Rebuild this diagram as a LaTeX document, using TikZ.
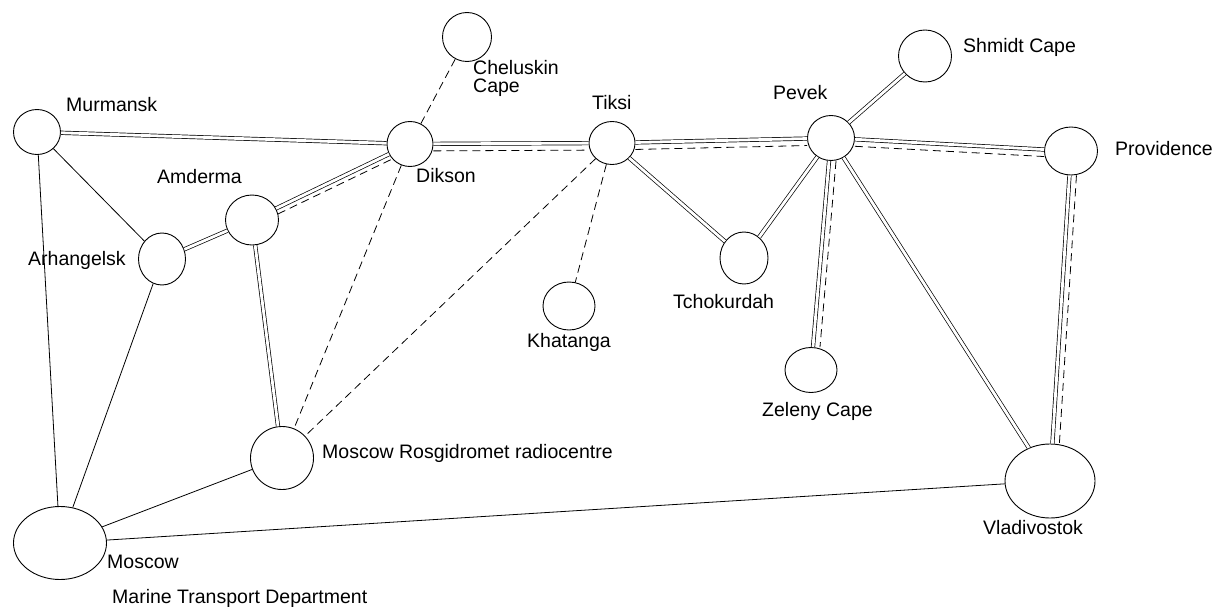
\documentclass[tikz,border=0pt]{standalone}
\usepackage{fontspec}
\setmainfont{Liberation Sans}
\usetikzlibrary{shapes.geometric,calc}
\begin{document}
\begin{tikzpicture}[x=1pt,y=-1pt,
  st/.style={draw,ellipse,inner sep=0pt,line width=0.9pt},
  lab/.style={anchor=base west,inner sep=0pt,font=\fontsize{19.5}{18}\selectfont},
  single/.style={line width=0.8pt},
  dbl/.style={double,double distance=2.8pt,line width=0.7pt},
  dsh/.style={line width=0.8pt,dash pattern=on 8pt off 5pt}]
\useasboundingbox (0,0) rectangle (1214,607);
\fill[white] (0,0) rectangle (1214,607);

% stations
\node[st,minimum width=47pt,minimum height=45pt] (mur) at (37,132) {};
\node[st,minimum width=46pt,minimum height=45pt] (dik) at (410,144) {};
\node[st,minimum width=53pt,minimum height=50pt] (amd) at (252,220) {};
\node[st,minimum width=47pt,minimum height=52pt] (arh) at (162,259) {};
\node[st,minimum width=49pt,minimum height=49pt] (che) at (467,37) {};
\node[st,minimum width=46pt,minimum height=43pt] (tik) at (612,143) {};
\node[st,minimum width=47pt,minimum height=45pt] (pev) at (831,138) {};
\node[st,minimum width=53pt,minimum height=52pt] (shm) at (925,56) {};
\node[st,minimum width=53pt,minimum height=48pt] (pro) at (1071,151) {};
\node[st,minimum width=48pt,minimum height=52pt] (tch) at (744,258) {};
\node[st,minimum width=52pt,minimum height=48pt] (kha) at (569,306) {};
\node[st,minimum width=52pt,minimum height=45pt] (zel) at (811,370) {};
\node[st,minimum width=90pt,minimum height=74pt] (vla) at (1050,481) {};
\node[st,minimum width=63pt,minimum height=63pt] (ros) at (282,458) {};
\node[st,minimum width=93pt,minimum height=73pt] (mos) at (60,543) {};

% labels
\node[lab] (lmur) at (66,112) {Murmansk};
\node[lab] (lamd) at (157,183) {Amderma};
\node[lab] (larh) at (28,265) {Arhangelsk};
\node[lab] (ldik) at (416,182) {Dikson};
\node[lab] (ltik) at (592,110) {Tiksi};
\node[lab,anchor=north west,align=left] (lche) at (473,60) {Cheluskin\\Cape};
\node[lab] (lpev) at (773,100) {Pevek};
\node[lab] (lshm) at (963,53) {Shmidt Cape};
\node[lab] (lpro) at (1115,155) {Providence};
\node[lab] (ltch) at (673,308) {Tchokurdah};
\node[lab] (lkha) at (527,347) {Khatanga};
\node[lab] (lzel) at (762,416) {Zeleny Cape};
\node[lab] (lvla) at (983,534) {Vladivostok};
\node[lab] (lros) at (322,458) {Moscow Rosgidromet radiocentre};
\node[lab] (lmos) at (107,568) {Moscow};
\node[lab] (lmtd) at (112,603) {Marine Transport Department};

% single lines
\draw[single] (mur) -- (arh);
\draw[single] (mur) -- (mos);
\draw[single] (arh) -- (mos);
\draw[single] (ros) -- (mos);
\draw[single] (mos) -- (vla);

% double lines
\draw[dbl] (mur) -- (dik);
\draw[dbl] (arh) -- (amd);
\draw[dbl] (amd) -- (dik);
\draw[dbl] (amd) -- (ros);
\draw[dbl] (dik) -- (tik);
\draw[dbl] (tik) -- (tch);
\draw[dbl] (tik) -- (pev);
\draw[dbl] (pev) -- (tch);
\draw[dbl] (pev) -- (shm);
\draw[dbl] (pev) -- (pro);
\draw[dbl] (pev) -- (zel);
\draw[dbl] (pev) -- (vla);
\draw[dbl] (pro) -- (vla);

% dashed lines
\draw[dsh] (dik) -- (che);
\draw[dsh] (dik) -- (ros);
\draw[dsh] (tik) -- (ros);
\draw[dsh] (tik) -- (kha);

% dashed companions of double lines
\draw[dsh,transform canvas={xshift=2pt,yshift=-5.5pt}] (amd) -- (dik);
\draw[dsh,transform canvas={yshift=-7pt}] (dik) -- (tik);
\draw[dsh,transform canvas={yshift=-7pt}] (tik) -- (pev);
\draw[dsh,transform canvas={yshift=-7pt}] (pev) -- (pro);
\draw[dsh,transform canvas={xshift=7pt}] (pev) -- (zel);
\draw[dsh,transform canvas={xshift=7pt}] (pro) -- (vla);
\end{tikzpicture}
\end{document}
